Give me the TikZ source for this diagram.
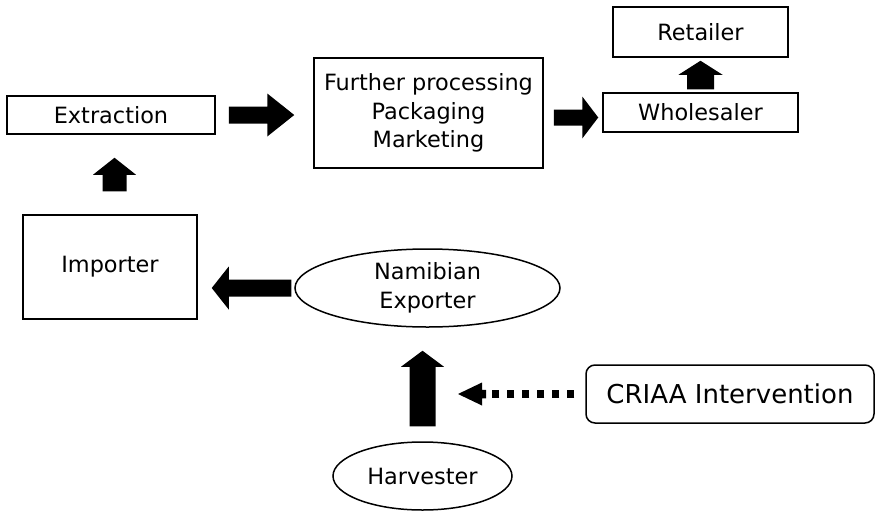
\documentclass[tikz,border=0pt]{standalone}
\usepackage{fontspec}
\setmainfont{DejaVu Sans}
\usetikzlibrary{shapes.geometric,calc}
\newcommand\blkarrow[5]{%
  \path ($(#2)!#5!(#1)$) coordinate (hb);
  \fill ($(#1)!#3!90:(#2)$) -- ($(hb)!#3!90:(#2)$) -- ($(hb)!#4!90:(#2)$) -- (#2)
    -- ($(hb)!#4!-90:(#2)$) -- ($(hb)!#3!-90:(#2)$) -- ($(#1)!#3!-90:(#2)$) -- cycle;}
\begin{document}
\begin{tikzpicture}[x=1pt,y=-1pt,
  box/.style={draw, line width=1.5pt, inner sep=0pt, align=center,
    font=\fontsize{22.4}{28.5}\selectfont},
  oval/.style={box, ellipse},
  rbox/.style={box, rounded corners=9pt, font=\fontsize{26}{30}\selectfont}]
\fill[white] (0,0) rectangle (879,512);
\useasboundingbox (0,0) rectangle (879,512);

\node[box, minimum width=208pt, minimum height=38pt] (extraction) at (111,115) {Extraction};
\node[box, minimum width=229pt, minimum height=110pt] (further) at (428.5,113) {Further processing\\Packaging\\Marketing};
\node[box, minimum width=195pt, minimum height=39pt] (wholesaler) at (700.5,112.5) {Wholesaler};
\node[box, minimum width=175pt, minimum height=50pt] (retailer) at (700.5,32) {Retailer};
\node[box, minimum width=174pt, minimum height=104pt] (importer) at (110,267) {Importer};
\node[oval, minimum width=265pt, minimum height=78pt] (exporter) at (427.5,288) {Namibian\\Exporter};
\node[oval, minimum width=179pt, minimum height=68pt] (harvester) at (422.5,476) {Harvester};
\node[rbox, minimum width=288pt, minimum height=58pt] (criaa) at (730,394) {CRIAA Intervention};

% Extraction -> Further processing
\coordinate (a1s) at ($(extraction.east)+(13,0)$);
\coordinate (a1e) at ($(further.west |- extraction.east)+(-19,0)$);
\blkarrow{a1s}{a1e}{8.5pt}{21.5pt}{27pt}
% Further processing -> Wholesaler
\coordinate (a2s) at ($(further.east)+(10,4.5)$);
\coordinate (a2e) at ($(wholesaler.west |- further.east)+(-4,4.5)$);
\blkarrow{a2s}{a2e}{8pt}{21pt}{16pt}
% Wholesaler -> Retailer
\coordinate (a3s) at ($(wholesaler.north)+(0,-3)$);
\coordinate (a3e) at ($(retailer.south)+(0,3)$);
\blkarrow{a3s}{a3e}{13.5pt}{22pt}{14pt}
% Importer -> Extraction
\coordinate (a4s) at ($(importer.north)+(4.5,-23)$);
\coordinate (a4e) at ($(importer.north |- extraction.south)+(4.5,23)$);
\blkarrow{a4s}{a4e}{12pt}{21.5pt}{17pt}
% Namibian Exporter -> Importer
\coordinate (a5s) at ($(exporter.west)+(-3,0)$);
\coordinate (a5e) at ($(importer.east |- exporter.west)+(14,0)$);
\blkarrow{a5s}{a5e}{8.5pt}{21.5pt}{17pt}
% Harvester -> Namibian Exporter
\coordinate (a6s) at ($(harvester.north)+(0,-15)$);
\coordinate (a6e) at ($(harvester.north |- exporter.south)+(0,23)$);
\blkarrow{a6s}{a6e}{13pt}{21.5pt}{16pt}
% CRIAA Intervention -> (dotted)
\coordinate (target) at (458,394);
\coordinate (a7s) at ($(criaa.west)+(-11,0)$);
\coordinate (a7m) at ($(target)+(28,0)$);
\draw[line width=8.5pt, dash pattern=on 7.5pt off 7.5pt] (a7s) -- (a7m);
\blkarrow{a7m}{target}{4.25pt}{11.5pt}{24pt}
\end{tikzpicture}
\end{document}
